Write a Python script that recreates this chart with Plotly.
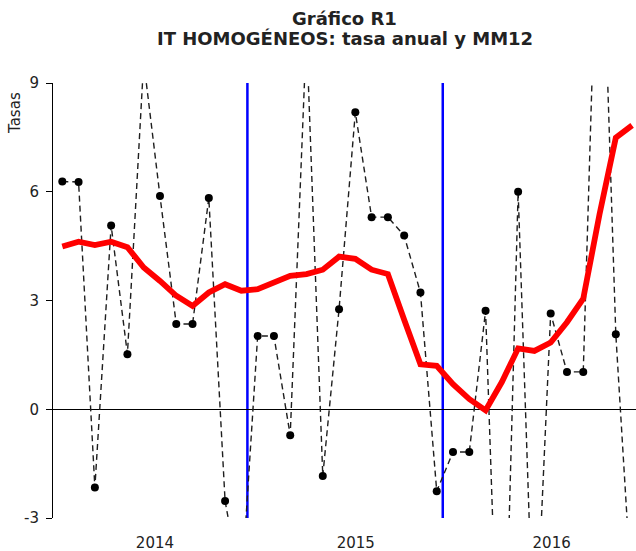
import plotly.graph_objects as go

# ---- data ----
months = [f"{y}-{m:02d}" for y in (2014, 2015, 2016) for m in range(1, 13)]

tasa_anual = [
    6.28, 6.27, -2.16, 5.07, 1.52, 9.6, 5.88, 2.35, 2.35, 5.83, -2.53, -5.0,
    2.02, 2.02, -0.72, 10.4, -1.84, 2.76, 8.19, 5.30, 5.30, 4.79, 3.22, -2.26,
    -1.18, -1.18, 2.72, -10.5, 6.0, -7.3, 2.64, 1.03, 1.03, 16.0, 2.07, -5.3,
]

mm12 = [
    4.49, 4.62, 4.53, 4.62, 4.47, 3.91, 3.54, 3.13, 2.85, 3.22, 3.45, 3.27,
    3.31, 3.50, 3.68, 3.73, 3.85, 4.21, 4.15, 3.85, 3.73, 2.47, 1.24, 1.20,
    0.69, 0.28, -0.03, 0.75, 1.68, 1.61, 1.84, 2.40, 3.05, 5.38, 7.49, 7.83,
]

year_labels = ["2014", "2015", "2016"]
y_ticks = [-3, 0, 3, 6, 9]
y_tick_text = ["-3", "0", "3", "6", "9"]

# ---- layout constants ----
x = list(range(len(months)))
YEAR_TICK_POS = [5.69, 18.03, 30.06]
YEAR_SEPARATORS = [11.37, 23.37]
FONT = "DejaVu Sans"
TXT = "#222222"

fig = go.Figure()

fig.add_trace(go.Scatter(
    x=x, y=tasa_anual, mode="lines+markers", name="tasa anual",
    line=dict(color="#1e1e1e", width=1.4, dash="6px,4px"),
    marker=dict(color="black", size=8),
    hoverinfo="skip",
))
fig.add_trace(go.Scatter(
    x=x, y=mm12, mode="lines", name="MM12",
    line=dict(color="#ff0000", width=5.8),
    hoverinfo="skip",
))

for xs in YEAR_SEPARATORS:
    fig.add_shape(type="line", xref="x", yref="y", x0=xs, x1=xs, y0=-3, y1=9,
                  line=dict(color="#0000ff", width=2.5), layer="below")

fig.update_layout(
    width=636, height=551,
    margin=dict(l=53, r=0, t=83, b=33),
    paper_bgcolor="white", plot_bgcolor="white",
    showlegend=False,
    font=dict(family=FONT, size=15, color=TXT),
    xaxis=dict(
        range=[-0.571, 35.24], showgrid=False, zeroline=False, showline=False,
        tickmode="array", tickvals=YEAR_TICK_POS, ticktext=year_labels,
        ticks="", tickfont=dict(size=15, color=TXT), ticklabelstandoff=14,
    ),
    yaxis=dict(
        range=[-3, 9], tickmode="array", tickvals=y_ticks, ticktext=y_tick_text,
        showgrid=False, showline=True, linecolor="black", linewidth=1,
        ticks="outside", ticklen=6, tickcolor="black", tickwidth=1,
        zeroline=True, zerolinecolor="black", zerolinewidth=1,
        tickfont=dict(size=15, color=TXT), ticklabelstandoff=4,
    ),
    annotations=[
        dict(text="<b>Gráfico R1</b>", xref="paper", yref="paper",
             x=0.5, y=(518 - 18) / 435, xanchor="center", yanchor="middle",
             showarrow=False, font=dict(size=18, family=FONT, color=TXT)),
        dict(text="<b>IT HOMOGÉNEOS: tasa anual y MM12</b>", xref="paper", yref="paper",
             x=0.5, y=(518 - 38.5) / 435, xanchor="center", yanchor="middle",
             showarrow=False, font=dict(size=18, family=FONT, color=TXT)),
        dict(text="Tasas", xref="paper", yref="paper",
             x=(15 - 53) / 583, y=(518 - 113) / 435, xanchor="center", yanchor="middle",
             textangle=-90, showarrow=False, font=dict(size=15, family=FONT, color=TXT)),
    ],
)

fig.write_html(
    "out.html",
    config={"displayModeBar": False, "staticPlot": True},
    post_script="document.body.style.margin='0';document.body.style.overflow='hidden';",
)
